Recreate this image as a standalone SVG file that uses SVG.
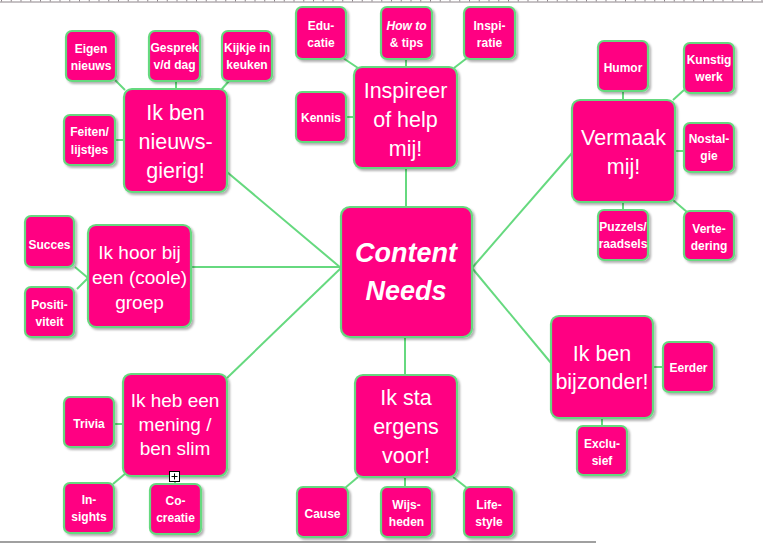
<svg xmlns="http://www.w3.org/2000/svg" width="763" height="543" viewBox="0 0 763 543">
<defs>
<filter id="sh" x="-10%" y="-10%" width="130%" height="130%">
<feDropShadow dx="2" dy="2" stdDeviation="1" flood-color="#000" flood-opacity="0.3"/>
</filter>
<style>
.n{fill:#FF0082;stroke:#66D97F;stroke-width:2.2;filter:url(#sh)}
.c line{stroke:#66D97F;stroke-width:2}
.b{font-family:"Liberation Sans",Arial,sans-serif;font-size:21.5px;fill:#fff;text-anchor:middle}
.m{font-family:"Liberation Sans",Arial,sans-serif;font-size:19px;fill:#fff;text-anchor:middle}
.s{font-family:"Liberation Sans",Arial,sans-serif;font-size:12px;font-weight:bold;fill:#fff;text-anchor:middle}
.cn{font-family:"Liberation Sans",Arial,sans-serif;font-size:27px;font-weight:bold;font-style:italic;fill:#fff;text-anchor:middle}
</style>
</defs>
<rect width="763" height="543" fill="#fff"/>
<line x1="0" y1="2" x2="763" y2="2" stroke="#8c8489" stroke-width="1"/>
<line x1="1" y1="0.8" x2="763" y2="0.8" stroke="#8c8489" stroke-width="1.6" stroke-dasharray="1 8.75"/>
<line x1="0" y1="542" x2="596" y2="542" stroke="#808080" stroke-width="1.5"/>
<g id="connectors" class="c">
<line x1="115" y1="80" x2="125" y2="90"/>
<line x1="176" y1="81" x2="176" y2="89"/>
<line x1="229" y1="81" x2="221" y2="90"/>
<line x1="115" y1="140" x2="124" y2="140"/>
<line x1="227" y1="172" x2="341" y2="268"/>
<line x1="343" y1="58" x2="358" y2="68"/>
<line x1="406" y1="59" x2="406" y2="67"/>
<line x1="467" y1="58" x2="454" y2="68"/>
<line x1="346" y1="117" x2="354" y2="117"/>
<line x1="406" y1="168" x2="406" y2="207"/>
<line x1="623" y1="91" x2="623" y2="100"/>
<line x1="684" y1="90" x2="673" y2="100"/>
<line x1="675" y1="151" x2="684" y2="151"/>
<line x1="673" y1="200" x2="687" y2="212"/>
<line x1="623" y1="202" x2="623" y2="210"/>
<line x1="572" y1="153" x2="472" y2="268"/>
<line x1="75" y1="267" x2="88" y2="278"/>
<line x1="77" y1="289" x2="88" y2="278"/>
<line x1="191" y1="267" x2="341" y2="267"/>
<line x1="653" y1="367" x2="663" y2="367"/>
<line x1="602" y1="418" x2="602" y2="426"/>
<line x1="551" y1="363" x2="472" y2="268"/>
<line x1="114" y1="424" x2="123" y2="424"/>
<line x1="113" y1="484" x2="126" y2="473"/>
<line x1="175" y1="476" x2="175" y2="484"/>
<line x1="227" y1="378" x2="341" y2="268"/>
<line x1="345" y1="488" x2="358" y2="477"/>
<line x1="405" y1="477" x2="405" y2="487"/>
<line x1="453" y1="477" x2="467" y2="488"/>
<line x1="405" y1="337" x2="405" y2="375"/>
</g>
<g id="content-needs"><rect class="n" x="341" y="207" width="131" height="130" rx="9"/><text class="cn" x="406" y="262">Content</text><text class="cn" x="406" y="300">Needs</text></g>
<g id="nieuwsgierig"><rect class="n" x="124" y="89" width="103" height="103" rx="8"/><text class="b" x="175.5" y="120">Ik ben</text><text class="b" x="175.5" y="149">nieuws-</text><text class="b" x="175.5" y="178">gierig!</text></g>
<g id="eigen-nieuws"><rect class="n" x="66" y="31" width="50" height="50" rx="6"/><text class="s" x="91" y="53">Eigen</text><text class="s" x="91" y="70">nieuws</text></g>
<g id="gesprek"><rect class="n" x="149" y="31" width="51" height="50" rx="6"/><text class="s" x="174.5" y="52">Gesprek</text><text class="s" x="174.5" y="69">v/d dag</text></g>
<g id="kijkje"><rect class="n" x="222" y="31" width="50" height="50" rx="6"/><text class="s" x="247" y="52">Kijkje in</text><text class="s" x="247" y="69">keuken</text></g>
<g id="feiten"><rect class="n" x="64" y="115" width="51" height="50" rx="6"/><text class="s" x="89.5" y="136">Feiten/</text><text class="s" x="89.5" y="154">lijstjes</text></g>
<g id="inspireer"><rect class="n" x="354" y="67" width="103" height="101" rx="8"/><text class="b" x="405.5" y="98">Inspireer</text><text class="b" x="405.5" y="127">of help</text><text class="b" x="405.5" y="156">mij!</text></g>
<g id="educatie"><rect class="n" x="296" y="7" width="50" height="52" rx="6"/><text class="s" x="321" y="30">Edu-</text><text class="s" x="321" y="47">catie</text></g>
<g id="howto"><rect class="n" x="381" y="7" width="51" height="52" rx="6"/><text class="s" x="406.5" y="30" font-style="italic">How to</text><text class="s" x="406.5" y="47">&amp; tips</text></g>
<g id="inspiratie"><rect class="n" x="464" y="7" width="51" height="52" rx="6"/><text class="s" x="489.5" y="30">Inspi-</text><text class="s" x="489.5" y="47">ratie</text></g>
<g id="kennis"><rect class="n" x="296" y="92" width="50" height="50" rx="6"/><text class="s" x="321" y="121.5">Kennis</text></g>
<g id="vermaak"><rect class="n" x="572" y="100" width="103" height="102" rx="8"/><text class="b" x="623.5" y="145">Vermaak</text><text class="b" x="623.5" y="174">mij!</text></g>
<g id="humor"><rect class="n" x="598" y="41" width="50" height="50" rx="6"/><text class="s" x="623" y="71.5">Humor</text></g>
<g id="kunstig"><rect class="n" x="684" y="43" width="50" height="50" rx="6"/><text class="s" x="709" y="64">Kunstig</text><text class="s" x="709" y="81">werk</text></g>
<g id="nostalgie"><rect class="n" x="684" y="123" width="50" height="49" rx="6"/><text class="s" x="709" y="143">Nostal-</text><text class="s" x="709" y="160">gie</text></g>
<g id="vertedering"><rect class="n" x="684" y="211" width="50" height="49" rx="6"/><text class="s" x="709" y="233">Verte-</text><text class="s" x="709" y="250">dering</text></g>
<g id="puzzels"><rect class="n" x="598" y="210" width="50" height="50" rx="6"/><text class="s" x="623" y="231">Puzzels/</text><text class="s" x="623" y="248">raadsels</text></g>
<g id="groep"><rect class="n" x="88" y="225" width="103" height="102" rx="8"/><text class="m" x="139.5" y="259">Ik hoor bij</text><text class="m" x="139.5" y="284">een (coole)</text><text class="m" x="139.5" y="309">groep</text></g>
<g id="succes"><rect class="n" x="25" y="216" width="49" height="51" rx="6"/><text class="s" x="49.5" y="248.5">Succes</text></g>
<g id="positiviteit"><rect class="n" x="25" y="287" width="49" height="50" rx="6"/><text class="s" x="49.5" y="309">Positi-</text><text class="s" x="49.5" y="326">viteit</text></g>
<g id="bijzonder"><rect class="n" x="551" y="316" width="102" height="102" rx="8"/><text class="b" x="602" y="361">Ik ben</text><text class="b" x="602" y="389">bijzonder!</text></g>
<g id="eerder"><rect class="n" x="663" y="342" width="51" height="50" rx="6"/><text class="s" x="688.5" y="372">Eerder</text></g>
<g id="exclusief"><rect class="n" x="577" y="426" width="50" height="49" rx="6"/><text class="s" x="602" y="448">Exclu-</text><text class="s" x="602" y="465">sief</text></g>
<g id="mening"><rect class="n" x="123" y="374" width="104" height="102" rx="8"/><text class="m" x="175" y="407">Ik heb een</text><text class="m" x="175" y="431">mening /</text><text class="m" x="175" y="455">ben slim</text></g>
<g id="trivia"><rect class="n" x="64" y="397" width="50" height="50" rx="6"/><text class="s" x="89" y="427.5">Trivia</text></g>
<g id="insights"><rect class="n" x="64" y="483" width="50" height="50" rx="6"/><text class="s" x="89" y="504">In-</text><text class="s" x="89" y="521">sights</text></g>
<g id="cocreatie"><rect class="n" x="150" y="484" width="51" height="50" rx="6"/><text class="s" x="175.5" y="505">Co-</text><text class="s" x="175.5" y="522">creatie</text></g>
<g id="ik-sta"><rect class="n" x="355" y="375" width="102" height="102" rx="8"/><text class="b" x="406" y="405">Ik sta</text><text class="b" x="406" y="434">ergens</text><text class="b" x="406" y="463">voor!</text></g>
<g id="cause"><rect class="n" x="297" y="487" width="51" height="50" rx="6"/><text class="s" x="322.5" y="517.5">Cause</text></g>
<g id="wijsheden"><rect class="n" x="381" y="487" width="51" height="50" rx="6"/><text class="s" x="406.5" y="509">Wijs-</text><text class="s" x="406.5" y="526">heden</text></g>
<g id="lifestyle"><rect class="n" x="464" y="487" width="50" height="50" rx="6"/><text class="s" x="489" y="509">Life-</text><text class="s" x="489" y="526">style</text></g>
<g id="expand-icon"><rect x="169.5" y="471.5" width="10" height="10" fill="#fff" stroke="#000" stroke-width="1"/><line x1="171.5" y1="476.5" x2="177.5" y2="476.5" stroke="#000" stroke-width="1"/><line x1="174.5" y1="473.5" x2="174.5" y2="479.5" stroke="#000" stroke-width="1"/></g>
</svg>
